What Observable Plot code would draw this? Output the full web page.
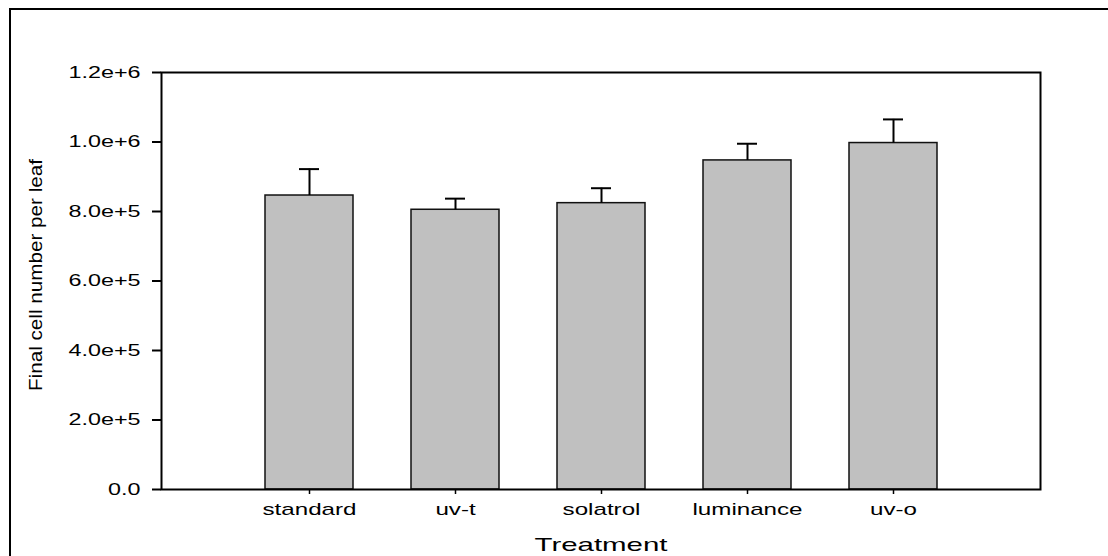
<!DOCTYPE html>
<html>
<head>
<meta charset="utf-8">
<script src="https://cdn.jsdelivr.net/npm/d3@7"></script>
<script src="https://cdn.jsdelivr.net/npm/@observablehq/plot@0.6"></script>
<style>
  html, body { margin: 0; padding: 0; background: #fff; overflow: hidden; }
  #wrap { position: relative; width: 1108px; height: 556px; }
  #outer { position: absolute; left: 9px; top: 8px; width: 1200px; height: 700px;
           border-top: 2.5px solid #000; border-left: 2.5px solid #000; pointer-events: none; }
</style>
</head>
<body>
<div id="wrap"><div id="outer"></div></div>
<script>
const categories = ["standard", "uv-t", "solatrol", "luminance", "uv-o"];
const means = [846000, 805000, 824000, 947000, 997000];
const errors = [76000, 32000, 43000, 48000, 68000];
const yTicks = [0, 200000, 400000, 600000, 800000, 1000000, 1200000];
const yTickLabels = ["0.0", "2.0e+5", "4.0e+5", "6.0e+5", "8.0e+5", "1.0e+6", "1.2e+6"];
const xTitle = "Treatment";
const yTitle = "Final cell number per leaf";

const data = categories.map((c, i) => ({cat: c, mean: means[i], top: means[i] + errors[i]}));

const chart = Plot.plot({
  width: 1108,
  height: 556,
  marginLeft: 161,
  marginRight: 68,
  marginTop: 72,
  marginBottom: 67,
  style: {fontFamily: "'Liberation Sans', Arial, sans-serif", background: "transparent", color: "#000"},
  x: {domain: categories, paddingInner: 0.4, paddingOuter: 0.7, label: null},
  y: {domain: [0, 1200000], label: null},
  marks: [
    Plot.barY(data, {x: "cat", y: "mean", fill: "#c0c0c0", stroke: "#111", strokeWidth: 1.5}),
    Plot.ruleX(data, {x: "cat", y1: "mean", y2: "top", stroke: "#000", strokeWidth: 2}),
    Plot.tickY(data, {x: "cat", y: "top", insetLeft: 34, insetRight: 34, stroke: "#000", strokeWidth: 2}),
    Plot.axisY({ticks: yTicks, tickFormat: d => yTickLabels[yTicks.indexOf(d)], tickSize: 9, tickPadding: 12,
                fontSize: 16, strokeWidth: 2, label: null}),
    Plot.axisX({tickSize: 5, tickPadding: 8, fontSize: 17, strokeWidth: 1.5, label: null}),
    Plot.frame({stroke: "#000", strokeWidth: 2}),
    Plot.text([yTitle], {frameAnchor: "left", textAnchor: "middle", lineAnchor: "middle",
                         dx: -125, dy: -6, rotate: -90, fontSize: 18}),
    Plot.text([xTitle], {frameAnchor: "bottom", textAnchor: "middle", lineAnchor: "middle",
                         dy: 55, fontSize: 19})
  ]
});

document.getElementById("wrap").appendChild(chart);
chart.style.position = "absolute";
chart.style.left = "0px";
chart.style.top = "0px";

const texts = Array.from(chart.querySelectorAll("text"));
const byContent = s => texts.filter(t => t.textContent === s);
function setLen(t, len) {
  t.setAttribute("textLength", len);
  t.setAttribute("lengthAdjust", "spacingAndGlyphs");
}
// stretch factors derived from reference label widths
const yRef = byContent("1.0e+6")[0];
const xRef = byContent("standard")[0];
const yFactor = 72 / yRef.getComputedTextLength();
const xFactor = 94 / xRef.getComputedTextLength();
texts.forEach(t => {
  const s = t.textContent;
  const w = t.getComputedTextLength();
  if (yTickLabels.includes(s)) setLen(t, w * yFactor);
  else if (categories.includes(s)) setLen(t, w * xFactor);
  else if (s === xTitle) setLen(t, 133);
  else if (s === yTitle) setLen(t, 232);
});
</script>
</body>
</html>
